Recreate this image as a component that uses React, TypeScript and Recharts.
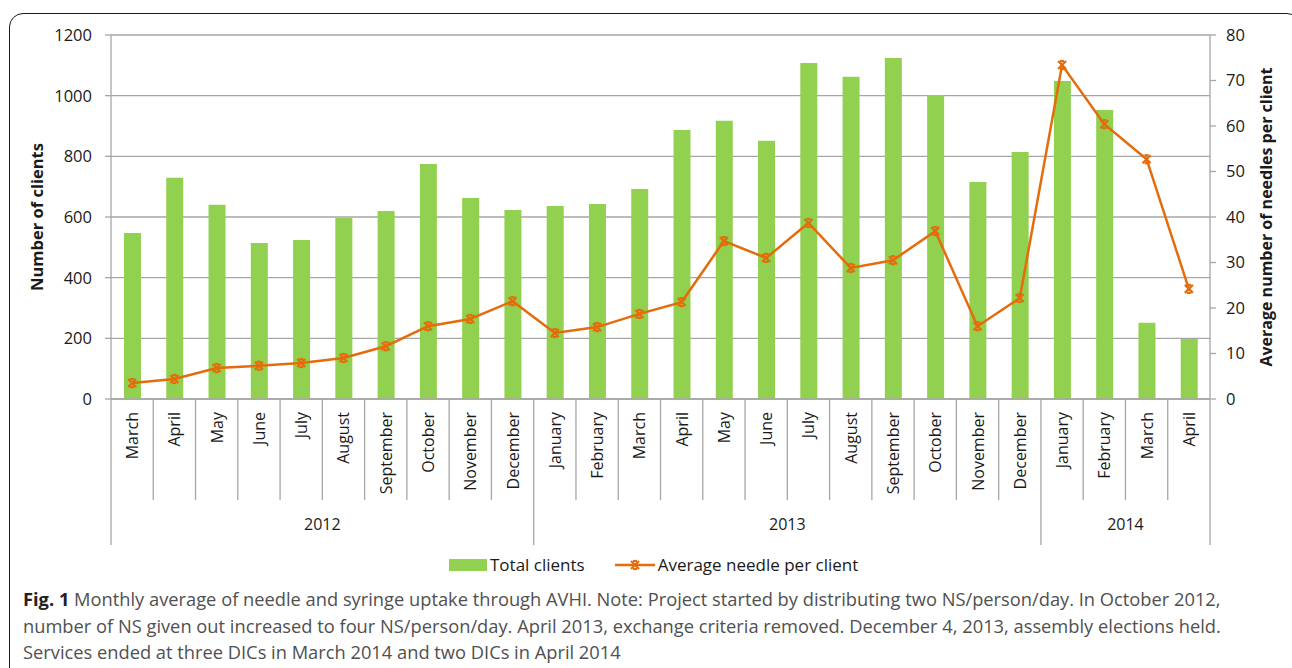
import React from "react";
import {
    Bar,
    CartesianGrid,
    ComposedChart,
    Line,
    XAxis,
    YAxis,
} from "recharts";

const months = [
    "March", "April", "May", "June", "July", "August", "September", "October", "November", "December",
    "January", "February", "March", "April", "May", "June", "July", "August", "September", "October", "November", "December",
    "January", "February", "March", "April",
];
const yearLabels = ["2012", "2013", "2014"];
const monthsPerYear = [10, 12, 4];

const totalClients = [
    547, 729, 640, 514, 524, 597, 620, 775, 663, 623,
    636, 643, 692, 887, 917, 851, 1108, 1062, 1124, 1002, 715, 814,
    1048, 953, 251, 198,
];
const avgNeedles = [
    3.5, 4.4, 6.8, 7.3, 7.9, 9.0, 11.6, 16.0, 17.6, 21.5,
    14.5, 15.8, 18.7, 21.3, 34.7, 31.0, 38.7, 28.8, 30.5, 36.9, 16.0, 22.2,
    73.4, 60.4, 52.7, 24.2,
];

const leftTicks = [0, 200, 400, 600, 800, 1000, 1200];
const rightTicks = [0, 10, 20, 30, 40, 50, 60, 70, 80];

const GREEN = "#92D050";
const ORANGE = "#E46C0A";
const GRID = "#A6A6A6";
const FONT = "'Open Sans', sans-serif";

const PLOT_W = 1099;

// year index for every month, and where each year starts
const yearOf: number[] = [];
monthsPerYear.forEach((n, yi) => {
    for (let i = 0; i < n; i++) yearOf.push(yi);
});
const yearStart = new Set<number>();
{
    let s = 0;
    monthsPerYear.forEach((n) => {
        yearStart.add(s);
        s += n;
    });
}

const data = months.map((m, i) => ({
    key: `${m}-${yearLabels[yearOf[i]]}`,
    total: totalClients[i],
    avg: avgNeedles[i],
}));

const MonthTick = (props: any) => {
    const { x, y, payload } = props;
    const index: number = payload?.index ?? props.index;
    const bw = PLOT_W / months.length;
    const start = yearStart.has(index);
    const last = index === months.length - 1;
    const yi = yearOf[index];
    return (
        <g>
            <text
                x={x}
                y={y + 13}
                transform={`rotate(-90, ${x}, ${y + 13})`}
                textAnchor="end"
                dominantBaseline="central"
                fontSize={16}
                fontFamily={FONT}
                fill="#1a1a1a"
            >
                {months[index]}
            </text>
            <line
                x1={x - bw / 2}
                x2={x - bw / 2}
                y1={y}
                y2={y + (start ? 146 : 101)}
                stroke={GRID}
                strokeWidth={1.3}
            />
            {last && (
                <line
                    x1={x + bw / 2}
                    x2={x + bw / 2}
                    y1={y}
                    y2={y + 146}
                    stroke={GRID}
                    strokeWidth={1.3}
                />
            )}
            {start && (
                <text
                    x={x - bw / 2 + (monthsPerYear[yi] * bw) / 2}
                    y={y + 125}
                    textAnchor="middle"
                    dominantBaseline="central"
                    fontSize={16}
                    fontFamily={FONT}
                    fill="#1a1a1a"
                >
                    {yearLabels[yi]}
                </text>
            )}
        </g>
    );
};

const CrossDot = (props: any) => {
    const { cx, cy } = props;
    if (cx == null || cy == null) return null;
    const s = 4;
    return (
        <g stroke={ORANGE} strokeWidth={2.2} fill="none">
            <line x1={cx - s} y1={cy - s} x2={cx + s} y2={cy + s} />
            <line x1={cx - s} y1={cy + s} x2={cx + s} y2={cy - s} />
            <line x1={cx - 2} y1={cy - s} x2={cx + 2} y2={cy - s} />
            <line x1={cx - 2} y1={cy + s} x2={cx + 2} y2={cy + s} />
        </g>
    );
};

const App: React.FC = () => {
    return (
        <div
            style={{
                position: "absolute",
                left: 0,
                top: 0,
                width: 1292,
                height: 668,
                overflow: "hidden",
                background: "#fff",
                fontFamily: FONT,
            }}
        >
            <div
                style={{
                    position: "absolute",
                    left: 9,
                    top: 13,
                    width: 1290,
                    height: 720,
                    border: "1.5px solid #1a1a1a",
                    borderRadius: 14,
                }}
            ></div>
            <div style={{ position: "absolute", left: 0, top: 0 }}>
                <ComposedChart
                    width={1292}
                    height={560}
                    data={data}
                    margin={{ top: 35, right: 12, bottom: 11, left: 11 }}
                >
                    <CartesianGrid
                        yAxisId="left"
                        vertical={false}
                        stroke={GRID}
                        strokeWidth={1.3}
                    />
                    <XAxis
                        dataKey="key"
                        interval={0}
                        height={150}
                        tickSize={0}
                        tickMargin={0}
                        tickLine={false}
                        axisLine={{ stroke: GRID, strokeWidth: 1.3 }}
                        tick={<MonthTick />}
                    />
                    <YAxis
                        yAxisId="left"
                        width={100}
                        domain={[0, 1200]}
                        ticks={leftTicks}
                        tickSize={6}
                        tickMargin={13}
                        axisLine={{ stroke: GRID, strokeWidth: 1.3 }}
                        tickLine={{ stroke: GRID, strokeWidth: 1.3 }}
                        tick={{ fontSize: 16.5, fill: "#1a1a1a", fontFamily: FONT }}
                        label={{
                            value: "Number of clients",
                            angle: -90,
                            position: "insideLeft",
                            offset: 26,
                            style: {
                                textAnchor: "middle",
                                fontWeight: 700,
                                fontSize: 16.5,
                                fill: "#1a1a1a",
                                fontFamily: FONT,
                            },
                        }}
                    />
                    <YAxis
                        yAxisId="right"
                        orientation="right"
                        width={70}
                        domain={[0, 80]}
                        ticks={rightTicks}
                        tickSize={6}
                        tickMargin={10}
                        axisLine={{ stroke: GRID, strokeWidth: 1.3 }}
                        tickLine={{ stroke: GRID, strokeWidth: 1.3 }}
                        tick={{ fontSize: 16.5, fill: "#1a1a1a", fontFamily: FONT }}
                        label={{
                            value: "Average number of needles per client",
                            angle: -90,
                            position: "insideRight",
                            offset: 14,
                            style: {
                                textAnchor: "middle",
                                fontWeight: 700,
                                fontSize: 16,
                                fill: "#1a1a1a",
                                fontFamily: FONT,
                            },
                        }}
                    />
                    <Bar
                        yAxisId="left"
                        dataKey="total"
                        fill={GREEN}
                        barSize={17}
                        isAnimationActive={false}
                    />
                    <Line
                        yAxisId="right"
                        type="linear"
                        dataKey="avg"
                        stroke={ORANGE}
                        strokeWidth={2.5}
                        dot={<CrossDot />}
                        activeDot={false}
                        isAnimationActive={false}
                    />
                </ComposedChart>
            </div>
            {/* legend */}
            <div
                style={{
                    position: "absolute",
                    left: 449,
                    top: 553,
                    display: "flex",
                    alignItems: "center",
                    fontSize: 17,
                    color: "#1a1a1a",
                    whiteSpace: "nowrap",
                }}
            >
                <span
                    style={{
                        display: "inline-block",
                        width: 38,
                        height: 12,
                        background: GREEN,
                        marginRight: 3,
                    }}
                ></span>
                <span>Total clients</span>
                <svg width={40} height={14} style={{ marginLeft: 30, marginRight: 3 }}>
                    <line x1={0} y1={7} x2={40} y2={7} stroke={ORANGE} strokeWidth={2.5} />
                    <CrossDot cx={20} cy={7} />
                </svg>
                <span>Average needle per client</span>
            </div>
            {/* caption */}
            <div
                style={{
                    position: "absolute",
                    left: 23,
                    top: 586,
                    fontSize: 18.3,
                    lineHeight: "26.5px",
                    color: "#505050",
                    whiteSpace: "nowrap",
                }}
            >
                <div>
                    <b style={{ color: "#222" }}>Fig. 1</b> Monthly average of needle and syringe uptake through AVHI. Note: Project started by distributing two NS/person/day. In October 2012,
                </div>
                <div>
                    number of NS given out increased to four NS/person/day. April 2013, exchange criteria removed. December 4, 2013, assembly elections held.
                </div>
                <div>Services ended at three DICs in March 2014 and two DICs in April 2014</div>
            </div>
        </div>
    );
};

export default App;
